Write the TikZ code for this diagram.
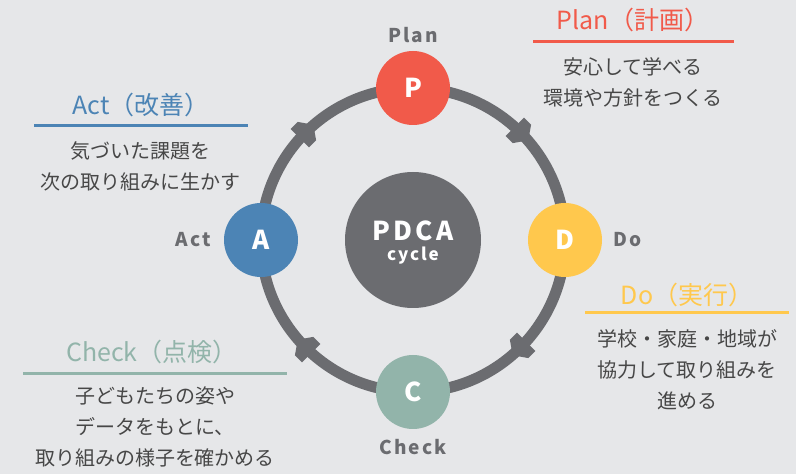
\documentclass[tikz,border=0pt]{standalone}
\usepackage{fontspec}
\setmainfont{Noto Sans CJK JP}
\newfontfamily\spacedfont[LetterSpace=12]{Noto Sans CJK JP}
\newfontfamily\midfont[LetterSpace=11]{Noto Sans CJK JP}
\usetikzlibrary{backgrounds,decorations.markings,arrows.meta}
\definecolor{pcol}{HTML}{F15A4A}
\definecolor{dcol}{HTML}{FFC84D}
\definecolor{ccol}{HTML}{92B4AA}
\definecolor{acol}{HTML}{4C84B5}
\definecolor{ringcol}{HTML}{6B6C70}
\definecolor{bgcol}{HTML}{E6E7E9}
\definecolor{txtcol}{HTML}{474747}
\tikzset{
  stage/.style={circle, minimum size=74pt, inner sep=0pt, text=white,
    font=\fontsize{26}{26}\selectfont\bfseries},
  lbl/.style={text=ringcol, font=\midfont\fontsize{19}{19}\selectfont\bfseries, inner sep=0pt},
  ttl/.style={font=\fontsize{25}{25}\selectfont, inner sep=0pt},
  body/.style={text=txtcol, font=\fontsize{20}{31}\selectfont, align=center, inner sep=0pt},
  uline/.style={line width=3pt},
  ring/.style={draw=ringcol, line width=11pt,
    postaction={decorate},
    decoration={markings, mark=at position 0.5 with {\fill[ringcol] (-8pt,-13pt) -- (2pt,-13pt) -- (11pt,0pt) -- (2pt,13pt) -- (-8pt,13pt) -- cycle;}}},
}
\begin{document}
\begin{tikzpicture}[x=1pt,y=1pt]
\useasboundingbox (0,0) rectangle (796,474);
% stages
\node[stage, fill=pcol] (P) at (413,386) {P};
\node[stage, fill=dcol] (D) at (565,234) {D};
\node[stage, fill=ccol] (C) at (413,82) {C};
\node[stage, fill=acol] (A) at (261,234) {A};
\node[circle, fill=ringcol, minimum size=136pt, inner sep=0pt] (O) at (413,234) {};
\node[text=white, font=\spacedfont\fontsize{26}{26}\selectfont\bfseries, inner sep=0pt] (pdca) at (413,243) {PDCA};
\node[text=white, font=\midfont\fontsize{17}{17}\selectfont\bfseries, inner sep=0pt] (cyc) at (413,218) {cycle};
% ring
\begin{scope}[on background layer]
\fill[bgcol] (0,0) rectangle (796,474);
\path[ring] (P.center) arc[start angle=90, end angle=0, radius=152pt];
\path[ring] (D.center) arc[start angle=0, end angle=-90, radius=152pt];
\path[ring] (C.center) arc[start angle=-90, end angle=-180, radius=152pt];
\path[ring] (A.center) arc[start angle=180, end angle=90, radius=152pt];
\end{scope}
% stage labels
\node[lbl] (lP) at (413,439) {Plan};
\node[lbl] (lD) at (628,234) {Do};
\node[lbl] (lA) at (193,234) {Act};
\node[lbl] (lC) at (413,27) {Check};
% Plan block
\node[ttl, text=pcol] (tP) at (633,454) {Plan（計画）};
\coordinate (pl1) at (533,432); \coordinate (pl2) at (734,432);
\draw[uline, pcol] (pl1) -- (pl2);
\node[body] (bP) at (633,392) {安心して学べる\\環境や方針をつくる};
% Act block
\node[ttl, text=acol] (tA) at (141,369) {Act（改善）};
\coordinate (al1) at (34,348); \coordinate (al2) at (248,348);
\draw[uline, acol] (al1) -- (al2);
\node[body] (bA) at (141,308) {気づいた課題を\\次の取り組みに生かす};
% Check block
\node[ttl, text=ccol] (tC) at (152,122) {Check（点検）};
\coordinate (cl1) at (23,100); \coordinate (cl2) at (287,100);
\draw[uline, ccol] (cl1) -- (cl2);
\node[body] (bC) at (155,47) {子どもたちの姿や\\データをもとに、\\取り組みの様子を確かめる};
% Do block
\node[ttl, text=dcol] (tD) at (687,179) {Do（実行）};
\coordinate (dl1) at (585,161); \coordinate (dl2) at (789,161);
\draw[uline, dcol] (dl1) -- (dl2);
\node[body] (bD) at (687,104) {学校・家庭・地域が\\協力して取り組みを\\進める};
\end{tikzpicture}
\end{document}
